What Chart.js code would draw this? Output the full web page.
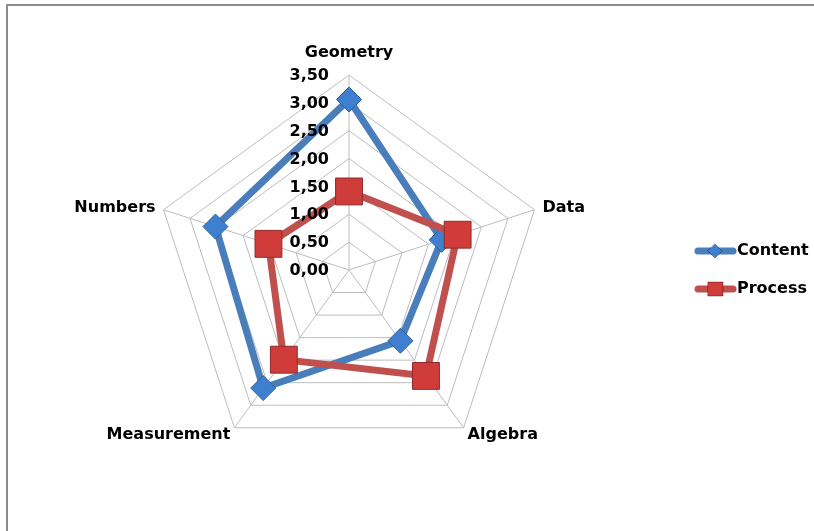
<!DOCTYPE html>
<html>
<head>
<meta charset="utf-8">
<script src="https://cdn.jsdelivr.net/npm/chart.js@4"></script>
<style>
  body { margin: 0; background: #fff; overflow: hidden; }
  #frame { position: absolute; left: 6px; top: 4px; width: 900px; height: 600px; border: 2px solid #8c8c8c; }
  #wrap { position: absolute; left: 0; top: 0; width: 814px; height: 531px; }
</style>
</head>
<body>
<div id="frame"></div>
<div id="wrap"><canvas id="myChart" width="814" height="531"></canvas></div>
<script>
// categories and values
var categories = ['Geometry', 'Data', 'Algebra', 'Measurement', 'Numbers'];
var contentValues = [3.06, 1.75, 1.57, 2.62, 2.52];
var processValues = [1.41, 2.05, 2.35, 1.99, 1.52];
var tickValues = [0, 0.5, 1, 1.5, 2, 2.5, 3, 3.5];

var blue = '#4a7ebb';
var red = '#c0504d';
var labelFont = 'bold 16px "DejaVu Sans", sans-serif';

// excel style number labels: 3,50
function fmt(v) { return v.toFixed(2).replace('.', ','); }

// draws tick labels, axis labels and the legend
var extras = {
  id: 'extras',
  afterDraw: function(chart) {
    var ctx = chart.ctx;
    var r = chart.scales.r;
    ctx.save();
    ctx.fillStyle = '#000';
    ctx.font = labelFont;
    ctx.textBaseline = 'middle';

    // tick labels left of the vertical axis
    ctx.textAlign = 'right';
    tickValues.forEach(function(v) {
      var d = r.getDistanceFromCenterForValue(v);
      ctx.fillText(fmt(v), r.xCenter - 20, r.yCenter - d + 1);
    });

    // category labels outside the outer ring
    var outer = r.getDistanceFromCenterForValue(3.5);
    categories.forEach(function(c, i) {
      var p = r.getPointPosition(i, outer);
      if (i === 0) {
        ctx.textAlign = 'center';
        ctx.fillText(c, p.x, p.y - 22);
      } else if (i === 1 || i === 2) {
        ctx.textAlign = 'left';
        ctx.fillText(c, p.x + (i === 1 ? 8 : 4), p.y + (i === 1 ? -2 : 7));
      } else {
        ctx.textAlign = 'right';
        ctx.fillText(c, p.x - (i === 4 ? 8 : 4), p.y + (i === 4 ? -2 : 7));
      }
    });

    // legend: line with marker
    var items = [
      { text: 'Content', color: blue, fill: '#3f7fcf', y: 251, style: 'diamond' },
      { text: 'Process', color: red, fill: '#cf3c3a', y: 289, style: 'square' }
    ];
    items.forEach(function(it) {
      ctx.strokeStyle = it.color;
      ctx.lineWidth = 7;
      ctx.lineCap = 'round';
      ctx.beginPath();
      ctx.moveTo(698, it.y);
      ctx.lineTo(733, it.y);
      ctx.stroke();
      ctx.fillStyle = it.fill;
      ctx.strokeStyle = 'rgba(0,0,0,0.35)';
      ctx.lineWidth = 1;
      ctx.beginPath();
      if (it.style === 'diamond') {
        ctx.moveTo(715, it.y - 7); ctx.lineTo(722, it.y); ctx.lineTo(715, it.y + 7); ctx.lineTo(708, it.y);
        ctx.closePath();
      } else {
        ctx.rect(708, it.y - 7, 15, 14);
      }
      ctx.fill();
      ctx.stroke();
      ctx.fillStyle = '#000';
      ctx.textAlign = 'left';
      ctx.fillText(it.text, 737, it.y);
    });
    ctx.restore();
  }
};

var ctx = document.getElementById('myChart').getContext('2d');
var myChart = new Chart(ctx, {
  type: 'radar',
  data: {
    labels: categories,
    datasets: [{
      label: 'Content',
      data: contentValues,
      borderColor: blue,
      backgroundColor: blue,
      borderWidth: 7,
      fill: false,
      pointStyle: 'rectRot',
      pointRadius: 12.5,
      pointHoverRadius: 12.5,
      pointBackgroundColor: '#3f7fcf',
      pointBorderColor: '#2f5f9a',
      pointBorderWidth: 1,
      order: 1
    }, {
      label: 'Process',
      data: processValues,
      borderColor: red,
      backgroundColor: red,
      borderWidth: 7,
      fill: false,
      pointStyle: 'rect',
      pointRadius: 19,
      pointHoverRadius: 19,
      pointBackgroundColor: '#cf3c3a',
      pointBorderColor: '#8f2a28',
      pointBorderWidth: 1,
      order: 0
    }]
  },
  options: {
    responsive: false,
    animation: false,
    layout: { padding: { left: 154, right: 270, top: 75, bottom: 66 } },
    plugins: {
      legend: { display: false },
      tooltip: { enabled: false }
    },
    elements: { line: { tension: 0, borderJoinStyle: 'miter' } },
    scales: {
      r: {
        min: 0,
        max: 3.5,
        ticks: { display: false, stepSize: 0.5 },
        pointLabels: { display: false },
        grid: { color: '#bdbdbd', lineWidth: 1 },
        angleLines: { color: '#bdbdbd', lineWidth: 1 }
      }
    }
  },
  plugins: [extras]
});
</script>
</body>
</html>
